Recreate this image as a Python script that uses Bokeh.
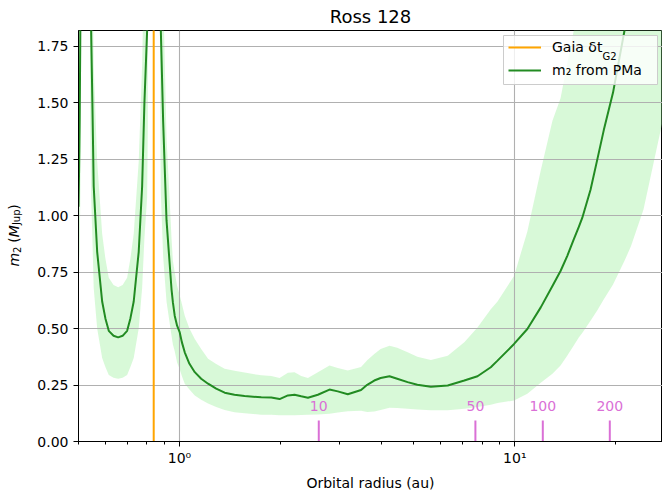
import math
from bokeh.plotting import figure
from bokeh.layouts import row
from bokeh.models import (Range1d, FixedTicker, PrintfTickFormatter, Legend,
                          LegendItem, Label, BoxAnnotation)
from bokeh.core.properties import value
from bokeh.embed import file_html
from bokeh.resources import INLINE

# ---------------- data ----------------
title_text = "Ross 128"
x_label = "Orbital radius (au)"

# left-most branch (below ~0.51 au)
radius_b1 = [0.500, 0.502, 0.504, 0.506, 0.508]
m2_b1 = [1.04, 1.20, 1.42, 1.75, 2.20]
m2_lo_b1 = [0.80, 0.80, 0.85, 1.05, 1.32]
m2_hi_b1 = [1.54, 1.78, 2.10, 2.60, 3.30]

# U-shaped branch between the two poles
radius_b2 = [0.542, 0.5453, 0.550, 0.555, 0.5684, 0.5882, 0.6014, 0.6155, 0.636,
             0.6564, 0.677, 0.6982, 0.714, 0.7305, 0.756, 0.774, 0.7862, 0.801, 0.805]
m2_b2 = [2.40, 1.82, 1.50, 1.13, 0.84, 0.62, 0.545, 0.49, 0.468,
         0.461, 0.468, 0.49, 0.545, 0.62, 0.84, 1.13, 1.50, 1.82, 2.40]
m2_lo_b2 = [1.40, 1.08, 0.90, 0.68, 0.50, 0.37, 0.33, 0.295, 0.282,
            0.278, 0.282, 0.295, 0.33, 0.37, 0.50, 0.68, 0.90, 1.08, 1.40]
m2_hi_b2 = [3.50, 2.70, 2.20, 1.67, 1.24, 0.92, 0.81, 0.725, 0.693,
            0.683, 0.693, 0.725, 0.81, 0.92, 1.24, 1.67, 2.20, 2.70, 3.50]

# main branch right of the Gaia pole
radius_b3 = [0.876, 0.880, 0.894, 0.915, 0.947, 0.956, 0.968, 0.984, 1.002, 1.0166,
             1.037, 1.071, 1.111, 1.161, 1.217, 1.287, 1.364, 1.459, 1.564, 1.754,
             1.878, 1.989, 2.106, 2.204, 2.307, 2.416, 2.587, 2.802, 2.966, 3.177,
             3.48, 3.63, 3.81, 3.98, 4.23, 4.46, 4.79, 5.12, 5.62, 6.31,
             7.07, 7.74, 8.48, 8.88, 9.95, 10.9, 11.95, 12.95, 13.69, 14.33,
             14.99, 15.52, 15.89, 16.82, 17.61, 18.43, 19.63, 21.24, 22.2, 24.2,
             27.6]
m2_b3 = [2.40, 1.82, 1.42, 0.98, 0.674, 0.616, 0.557, 0.513, 0.483, 0.44,
         0.395, 0.344, 0.307, 0.278, 0.256, 0.234, 0.216, 0.207, 0.201, 0.196,
         0.195, 0.188, 0.204, 0.207, 0.200, 0.194, 0.207, 0.230, 0.222, 0.209,
         0.228, 0.251, 0.270, 0.281, 0.289, 0.278, 0.263, 0.251, 0.242, 0.248,
         0.270, 0.289, 0.329, 0.358, 0.432, 0.498, 0.594, 0.689, 0.755, 0.821,
         0.895, 0.950, 0.990, 1.115, 1.247, 1.380, 1.545, 1.82, 1.98, 2.35,
         3.00]
m2_lo_b3 = [1.45, 1.10, 0.82, 0.62, 0.468, 0.43, 0.40, 0.35, 0.32, 0.29,
            0.256, 0.23, 0.204, 0.185, 0.168, 0.153, 0.140, 0.130, 0.125, 0.119,
            0.118, 0.116, 0.116, 0.116, 0.117, 0.119, 0.120, 0.123, 0.128, 0.134,
            0.136, 0.131, 0.133, 0.140, 0.149, 0.148, 0.145, 0.142, 0.138, 0.138,
            0.145, 0.153, 0.163, 0.170, 0.182, 0.212, 0.26, 0.30, 0.336, 0.38,
            0.425, 0.46, 0.48, 0.535, 0.58, 0.63, 0.695, 0.80, 0.865, 1.027,
            1.42]
m2_hi_b3 = [3.50, 2.70, 2.00, 1.35, 0.90, 0.80, 0.75, 0.69, 0.646, 0.61,
            0.557, 0.50, 0.454, 0.41, 0.366, 0.343, 0.322, 0.313, 0.305, 0.293,
            0.290, 0.281, 0.304, 0.307, 0.290, 0.281, 0.307, 0.336, 0.325, 0.314,
            0.330, 0.36, 0.388, 0.41, 0.424, 0.415, 0.395, 0.375, 0.361, 0.380,
            0.439, 0.505, 0.586, 0.620, 0.733, 0.93, 1.20, 1.42, 1.52, 1.673,
            1.82, 1.95, 2.00, 2.20, 2.40, 2.60, 2.90, 3.30, 3.70, 4.00,
            4.50]

gaia_radius = 0.838

period_radius = [2.603, 7.63, 12.12, 19.2]
period_labels = ["10", "50", "100", "200"]

y_ticks = [0.0, 0.25, 0.5, 0.75, 1.0, 1.25, 1.5, 1.75]
x_major = [1, 10]
x_major_labels = {1: "10\u2070", 10: "10\u00b9"}
x_minor = [0.5, 0.6, 0.7, 0.8, 0.9, 2, 3, 4, 5, 6, 7, 8, 9, 20]

# ---------------- styling ----------------
FONT = "DejaVu Sans"
GREEN = "forestgreen"
BAND = "#90ee90"
MAGENTA = "orchid"
marker_height = 0.093
marker_label_y = 0.158

p = figure(width=630, height=493, x_axis_type="log",
           x_range=Range1d(0.5, 27.57), y_range=Range1d(0, 1.82),
           output_backend="svg", toolbar_location=None,
           min_border_left=46, min_border_right=0, min_border_top=30,
           min_border_bottom=50)
p.background_fill_color = "white"
p.border_fill_color = "white"
p.outline_line_color = "black"
p.outline_line_width = 1

p.title.text = title_text
p.title.align = "center"
p.title.vertical_align = "top"
p.title.text_font = FONT
p.title.text_font_size = "18px"
p.title.text_font_style = "normal"
p.title.text_color = "black"
p.title.standoff = 4

# bands (under the grid)
for xs, lo, hi in [(radius_b1, m2_lo_b1, m2_hi_b1),
                   (radius_b2, m2_lo_b2, m2_hi_b2),
                   (radius_b3, m2_lo_b3, m2_hi_b3)]:
    p.varea(x=xs, y1=lo, y2=hi, fill_color=BAND, fill_alpha=0.35, level="image")

# Gaia line
gaia_r = p.ray(x=[gaia_radius], y=[0], length=0, angle=90, angle_units="deg",
               line_color="orange", line_width=2)

# m2 curves
p.line(radius_b1, m2_b1, line_color=GREEN, line_width=2)
p.line(radius_b2, m2_b2, line_color=GREEN, line_width=2)
main_r = p.line(radius_b3, m2_b3, line_color=GREEN, line_width=2)

# period markers
p.segment(x0=period_radius, y0=[0] * len(period_radius), x1=period_radius,
          y1=[marker_height] * len(period_radius), line_color=MAGENTA, line_width=2)
p.text(x=period_radius, y=[marker_label_y] * len(period_radius), text=period_labels,
       text_font=value(FONT), text_font_size="14px", text_color=MAGENTA,
       text_align="center", text_baseline="middle")

# axes
xa = p.xaxis[0]
xa.ticker = FixedTicker(ticks=x_major, minor_ticks=x_minor)
xa.major_label_overrides = x_major_labels
xa.axis_label = x_label
ya = p.yaxis[0]
ya.ticker = FixedTicker(ticks=y_ticks, minor_ticks=[])
ya.formatter = PrintfTickFormatter(format="%.2f")
for ax in (xa, ya):
    ax.axis_line_color = "black"
    ax.major_tick_line_color = "black"
    ax.minor_tick_line_color = "black"
    ax.major_tick_in = 0
    ax.major_tick_out = 5
    ax.minor_tick_in = 0
    ax.minor_tick_out = 3
    ax.major_label_text_font = FONT
    ax.major_label_text_font_size = "14px"
    ax.major_label_text_color = "black"
    ax.axis_label_text_font = FONT
    ax.axis_label_text_font_size = "14px"
    ax.axis_label_text_font_style = "normal"
    ax.axis_label_text_color = "black"
xa.major_label_standoff = 3
xa.axis_label_standoff = 6
ya.major_label_standoff = 5

for g in (p.xgrid[0], p.ygrid[0]):
    g.grid_line_color = "#b0b0b0"
    g.grid_line_width = 1.1
p.xgrid[0].ticker = FixedTicker(ticks=x_major)
p.ygrid[0].ticker = FixedTicker(ticks=y_ticks)

# legend: frame box drawn as an annotation, legend itself transparent
p.add_layout(BoxAnnotation(left=425, right=579, bottom=357, top=406,
                           left_units="screen", right_units="screen",
                           bottom_units="screen", top_units="screen",
                           fill_color="white", fill_alpha=0.8,
                           line_color="#cccccc", line_width=1, line_alpha=1.0))
legend = Legend(items=[LegendItem(label=value("Gaia \u03b4t"), renderers=[gaia_r]),
                       LegendItem(label=value("m\u2082 from PMa"), renderers=[main_r])],
                location=(426, 357), margin=0, padding=4, spacing=3,
                glyph_width=33, glyph_height=20, label_height=20, label_width=96,
                label_standoff=11, label_text_font=FONT, label_text_font_size="14px",
                label_text_color="black", border_line_alpha=0.0,
                background_fill_alpha=0.0)
p.add_layout(legend)
p.add_layout(Label(x=524, y=385, x_units="screen", y_units="screen", text="G2",
                   text_font=FONT, text_font_size="10px", text_color="black",
                   text_baseline="alphabetic"))

# narrow side panel carrying the y-axis label  m_2 (M_Jup)
side = figure(width=32, height=493, output_backend="svg", toolbar_location=None,
              x_range=Range1d(0, 1), y_range=Range1d(0, 1),
              x_axis_location=None, y_axis_location=None,
              min_border_left=0, min_border_right=0, min_border_top=0,
              min_border_bottom=0)
side.grid.visible = False
side.outline_line_color = None
side.background_fill_color = "white"
side.border_fill_color = "white"
ylab = [("m", 175.0, 13.0, "14px", "italic"),
        ("2", 188.6, 16.0, "10px", "normal"),
        ("(", 198.8, 13.0, "14px", "normal"),
        ("M", 204.3, 13.0, "14px", "italic"),
        ("Jup", 216.4, 16.0, "10px", "normal"),
        (")", 231.7, 13.0, "14px", "normal")]
for txt, yy, xx, fs, st in ylab:
    side.add_layout(Label(x=xx, y=yy, x_units="screen", y_units="screen", text=txt,
                          angle=math.pi / 2, text_font=FONT, text_font_size=fs,
                          text_font_style=st, text_color="black",
                          text_align="left", text_baseline="alphabetic"))

layout = row(side, p, spacing=0)
open("out.html", "w").write(file_html(layout, INLINE))
